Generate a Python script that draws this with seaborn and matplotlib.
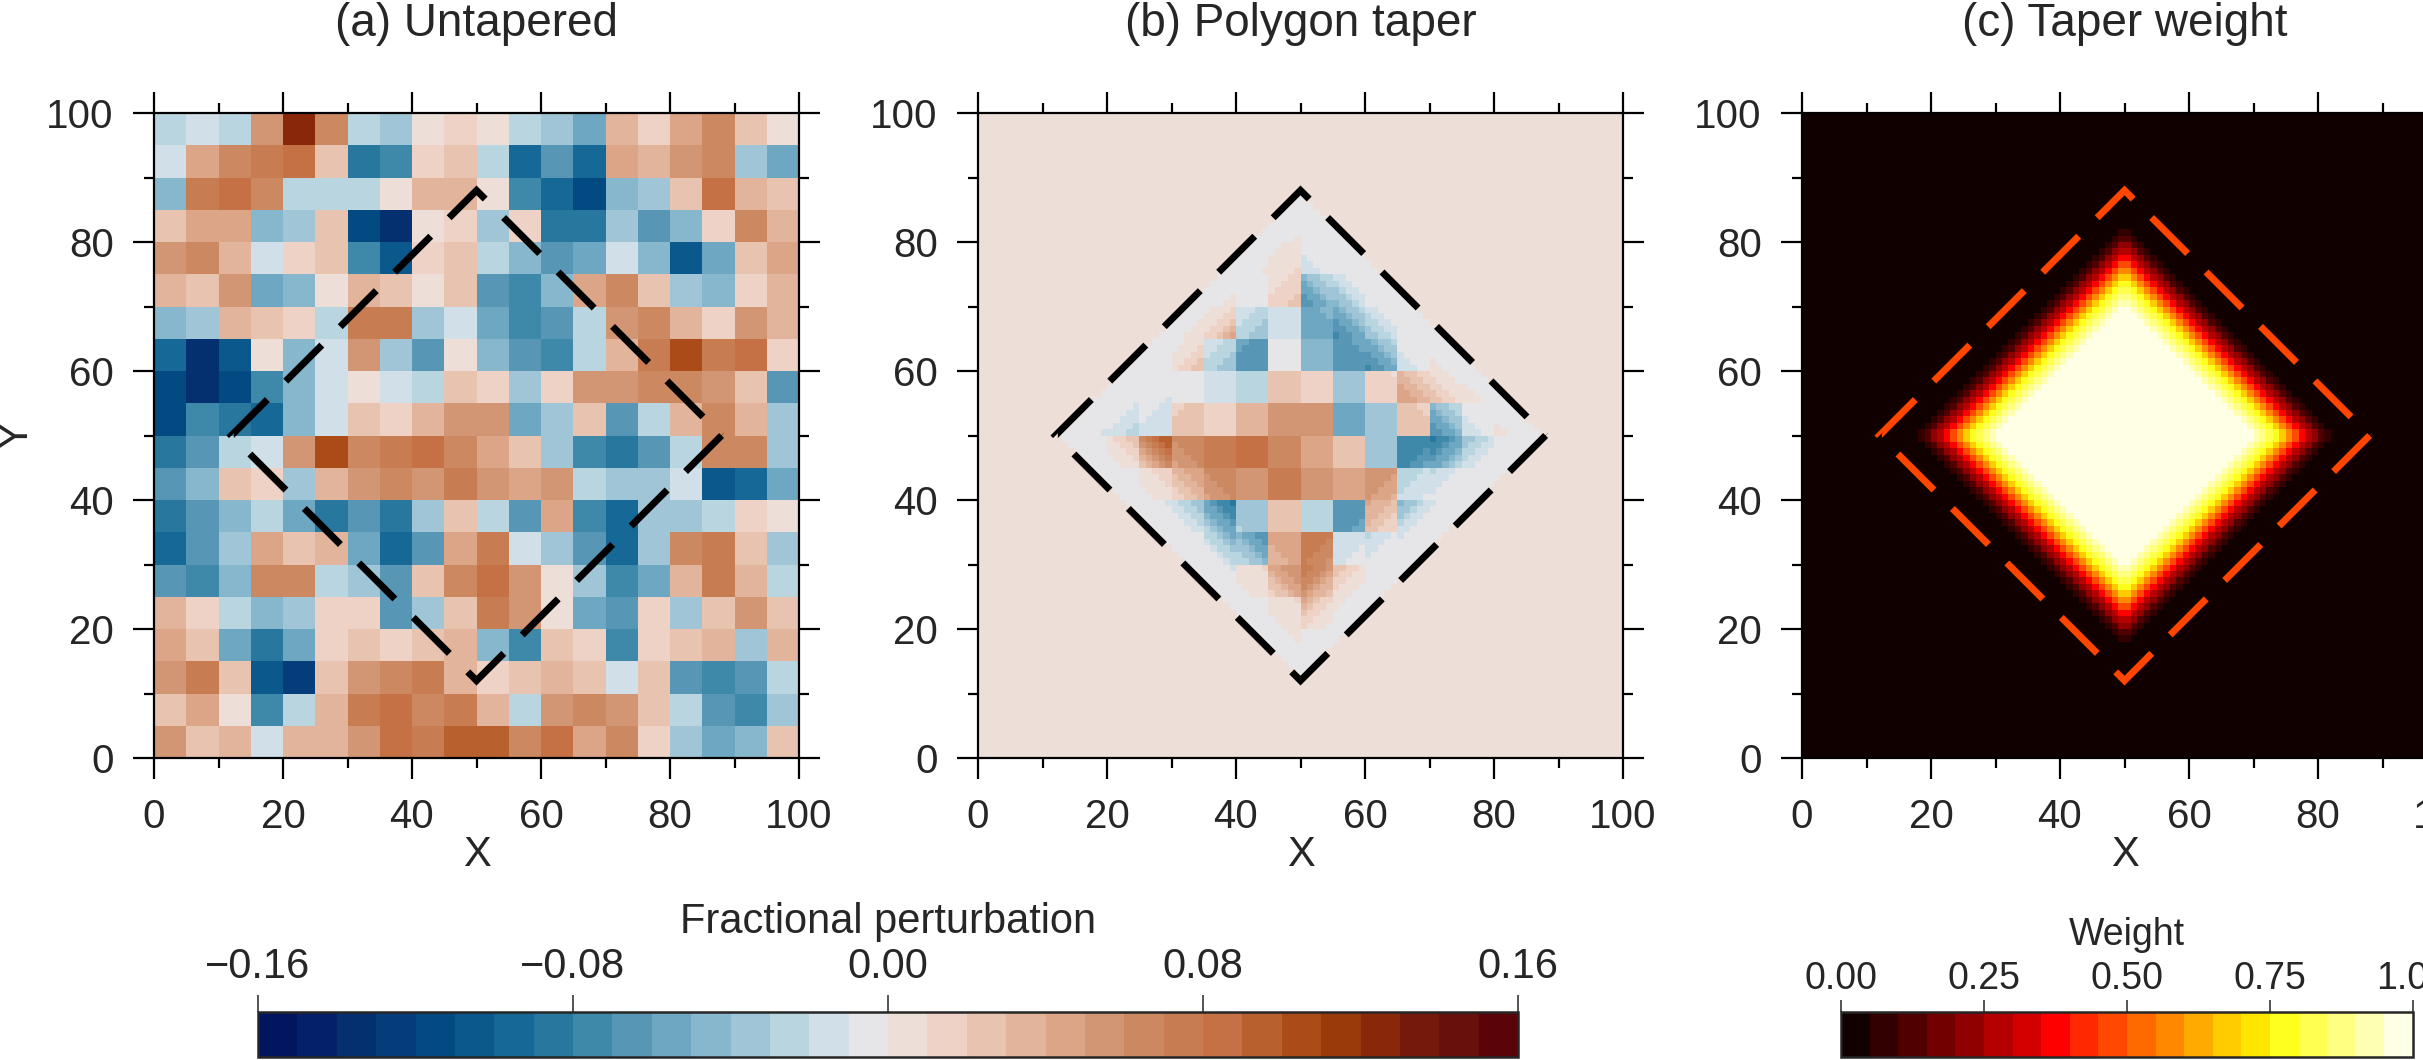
import numpy as np
import matplotlib
matplotlib.use("Agg")
import matplotlib.pyplot as plt
from matplotlib.colors import ListedColormap, BoundaryNorm
from matplotlib.cm import ScalarMappable
from matplotlib.ticker import MultipleLocator
import seaborn as sns

# Untapered field (a) as 5x5-unit block averages.
# Units of 0.01, rows from top (y 95-100) down to bottom (y 0-5), columns x 0-5 ... 95-100.
field_rows = [
    [-2, -1, -2, 5, 12, 6, -2, -3, 0, 1, 0, -2, -3, -5, 3, 1, 4, 6, 2, 0],
    [-1, 4, 6, 7, 8, 2, -8, -7, 1, 2, -2, -9, -6, -9, 4, 3, 5, 6, -3, -5],
    [-4, 7, 8, 6, -2, -2, -2, 0, 3, 3, 0, -7, -9, -11, -4, -3, 2, 8, 3, 2],
    [2, 4, 4, -4, -3, 2, -11, -13, 0, 1, -3, 1, -8, -8, -3, -6, -4, 1, 6, 3],
    [5, 6, 3, -1, 1, 2, -7, -10, 1, 2, -2, -4, -6, -5, -1, -4, -10, -5, 2, 4],
    [3, 2, 5, -5, -4, 0, 3, 2, 0, 2, -6, -7, -4, 4, 6, 2, -3, -4, 1, 3],
    [-4, -3, 3, 2, 1, -2, 7, 7, -3, -1, -5, -7, -6, -2, 5, 6, 3, 1, 5, 3],
    [-9, -13, -10, 0, -4, -1, 5, -3, -6, 0, -4, -6, -7, -2, 3, 7, 10, 7, 8, 1],
    [-11, -13, -11, -7, -4, -1, 0, -1, -2, 2, 1, -3, 1, 5, 5, 6, 6, 5, 2, -6],
    [-11, -7, -8, -9, -4, -1, 2, 1, 3, 5, 5, -5, -3, 2, -6, -2, 3, 6, 3, -3],
    [-8, -6, -2, -1, 5, 10, 6, 7, 8, 6, 4, 2, -3, -7, -8, -6, -2, 6, 6, -3],
    [-6, -4, 2, 1, -3, 3, 5, 6, 5, 7, 5, 4, 5, -2, -3, -3, -1, -10, -9, -5],
    [-8, -6, -4, -2, -5, -8, -6, -8, -3, 2, -2, -6, 4, -7, -9, -3, -3, -2, 1, 0],
    [-9, -6, -3, 4, 2, 3, -5, -9, -6, 4, 7, -1, -3, -6, -9, -3, 6, 7, 2, -3],
    [-6, -7, -4, 6, 6, -2, -3, -6, 2, 6, 8, 5, 0, -3, -7, -5, 3, 7, 3, -2],
    [3, 1, -2, -4, -3, 1, 1, -6, -3, 2, 7, 5, 0, -5, -6, 1, -3, 2, 5, 2],
    [4, 2, -5, -8, -5, 1, 2, 1, 2, 3, -4, -7, 2, 1, -7, 1, 2, 3, -3, 3],
    [5, 7, 2, -10, -12, 2, 5, 6, 7, 3, 1, 2, 3, 2, -1, 2, -6, -7, -6, -2],
    [2, 4, 0, -7, -2, 3, 7, 8, 6, 7, 3, -2, 5, 6, 5, 2, -2, -6, -7, -3],
    [5, 2, 3, -1, 3, 3, 5, 8, 7, 9, 9, 6, 8, 4, 6, 1, -3, -5, -4, 2],
]

# taper weight against L1 distance from the polygon centre (0, 1, 2, ... grid units)
taper_profile = [1.0] * 19 + [0.998, 0.98, 0.945, 0.893, 0.827, 0.75, 0.664, 0.571,
                               0.476, 0.382, 0.292, 0.21, 0.138, 0.08, 0.036, 0.009, 0.0]
taper_mean = 0.002   # mean removed inside the polygon

polygon_x = [88, 50, 12, 50, 88]
polygon_y = [50, 12, 50, 88, 50]
polygon_centre = (50, 50)
polygon_radius = 38

pert_colors = ['#021660', '#04206a', '#053070', '#043d7a', '#044a82', '#0b588c', '#166896', '#27779f',
               '#3e88a9', '#5797b5', '#6ea7c2', '#87b7cc', '#a0c5d6', '#b9d5e0', '#d1e0e8', '#e6e6e8',
               '#eddfd8', '#edd2c5', '#e7c3b0', '#e1b49b', '#dca587', '#d39675', '#cc8860', '#c77c52',
               '#c57045', '#b8602e', '#ab4b18', '#9a390a', '#882808', '#751a0a', '#68100b', '#5a040a']
weight_colors = ['#100000', '#330000', '#500000', '#720000', '#900000', '#b40000', '#d40000', '#ff0000',
                 '#ff2800', '#ff4800', '#ff6a00', '#ff8800', '#ffaa00', '#ffcc00', '#ffe600', '#ffff1e',
                 '#ffff50', '#ffff82', '#ffffb4', '#ffffe6']
pert_ticks = [-0.16, -0.08, 0.0, 0.08, 0.16]
weight_ticks = [0.0, 0.25, 0.5, 0.75, 1.0]

sns.set_style("ticks")
plt.rcParams['font.family'] = ['Liberation Sans', 'DejaVu Sans']

# ---- build the grids (row index = y cell, column index = x cell) ----
levels = np.array(field_rows, dtype=float)[::-1]
coarse = (levels + 0.5 * np.sign(levels)) / 100.0
untapered = np.repeat(np.repeat(coarse, 5, axis=0), 5, axis=1)

n = untapered.shape[0]
centres = np.arange(n) + 0.5
cx, cy = np.meshgrid(centres, centres)
dist = (np.abs(cx - polygon_centre[0]) + np.abs(cy - polygon_centre[1])).astype(int)
lookup = np.zeros(2 * n)
lookup[:len(taper_profile)] = taper_profile
weight = lookup[dist]

inside = dist < polygon_radius
tapered = np.where(inside, untapered * weight - taper_mean, 0.0)

pert_cmap = ListedColormap(pert_colors)
pert_norm = BoundaryNorm(np.linspace(-0.16, 0.16, len(pert_colors) + 1), pert_cmap.N)
w_cmap = ListedColormap(weight_colors)
w_norm = BoundaryNorm(np.linspace(0, 1, len(weight_colors) + 1), w_cmap.N)

W, H = 2423, 1060
fig = plt.figure(figsize=(W / 100, H / 100), dpi=100)
fig.patch.set_facecolor('white')


def px_axes(x0, y0, w, h):
    return fig.add_axes([x0 / W, 1 - (y0 + h) / H, w / W, h / H])


panels = [
    (154, untapered, pert_cmap, pert_norm, '(a) Untapered', 'black'),
    (978, tapered, pert_cmap, pert_norm, '(b) Polygon taper', 'black'),
    (1802, weight, w_cmap, w_norm, '(c) Taper weight', '#ff4500'),
]

for left, data, cmap, norm, title, line_color in panels:
    ax = px_axes(left, 113, 645, 645)
    sns.heatmap(data, ax=ax, cmap=cmap, norm=norm, cbar=False,
                xticklabels=False, yticklabels=False)
    ax.set_xlim(0, 100)
    ax.set_ylim(0, 100)
    ax.plot(polygon_x, polygon_y, color=line_color, lw=5,
            linestyle=(0, (7.34, 3.75)), dash_joinstyle='miter', solid_joinstyle='miter')

    for s in ax.spines.values():
        s.set_visible(True)
        s.set_linewidth(1.6)
        s.set_color('black')
    ax.xaxis.set_major_locator(MultipleLocator(20))
    ax.xaxis.set_minor_locator(MultipleLocator(10))
    ax.yaxis.set_major_locator(MultipleLocator(20))
    ax.yaxis.set_minor_locator(MultipleLocator(10))
    ax.xaxis.set_major_formatter(plt.FuncFormatter(lambda v, p: f"{v:.0f}"))
    ax.yaxis.set_major_formatter(plt.FuncFormatter(lambda v, p: f"{v:.0f}"))
    ax.tick_params(which='both', direction='out', bottom=True, top=True, left=True, right=True,
                   labelbottom=True, labelleft=True, labeltop=False, labelright=False,
                   width=1.6, color='black')
    ax.tick_params(which='major', length=15, labelsize=29, pad=14)
    ax.tick_params(which='minor', length=7)

    xc = (left + 322.5) / W
    fig.text(xc, 1 - 36 / H, title, ha='center', va='baseline', fontsize=33)
    fig.text(xc, 1 - 855 / H, 'X', ha='center', va='center', fontsize=30)

fig.text(16 / W, 1 - 435 / H, 'Y', rotation=90, ha='center', va='center', fontsize=30)

# ---- colour bars ----
cax1 = px_axes(258, 1012, 1260, 45)
cb1 = fig.colorbar(ScalarMappable(norm=pert_norm, cmap=pert_cmap), cax=cax1,
                   orientation='horizontal', ticks=pert_ticks, ticklocation='top')
cb1.ax.set_xticklabels([f"{t:.2f}".replace('-', '\u2212') for t in pert_ticks], fontsize=30)
cb1.ax.tick_params(length=12, width=1.1, pad=6)
cb1.ax.minorticks_off()
cb1.outline.set_linewidth(1.8)
fig.text(888 / W, 1 - 933 / H, 'Fractional perturbation', ha='center', va='baseline', fontsize=30)

cax2 = px_axes(1841, 1012, 572, 45)
cb2 = fig.colorbar(ScalarMappable(norm=w_norm, cmap=w_cmap), cax=cax2,
                   orientation='horizontal', ticks=weight_ticks, ticklocation='top')
cb2.ax.set_xticklabels([f"{t:.2f}" for t in weight_ticks], fontsize=27)
cb2.ax.tick_params(length=9, width=1.1, pad=2)
cb2.ax.minorticks_off()
cb2.outline.set_linewidth(1.8)
fig.text(2127 / W, 1 - 945 / H, 'Weight', ha='center', va='baseline', fontsize=27)

fig.savefig('out.png', dpi=100)
